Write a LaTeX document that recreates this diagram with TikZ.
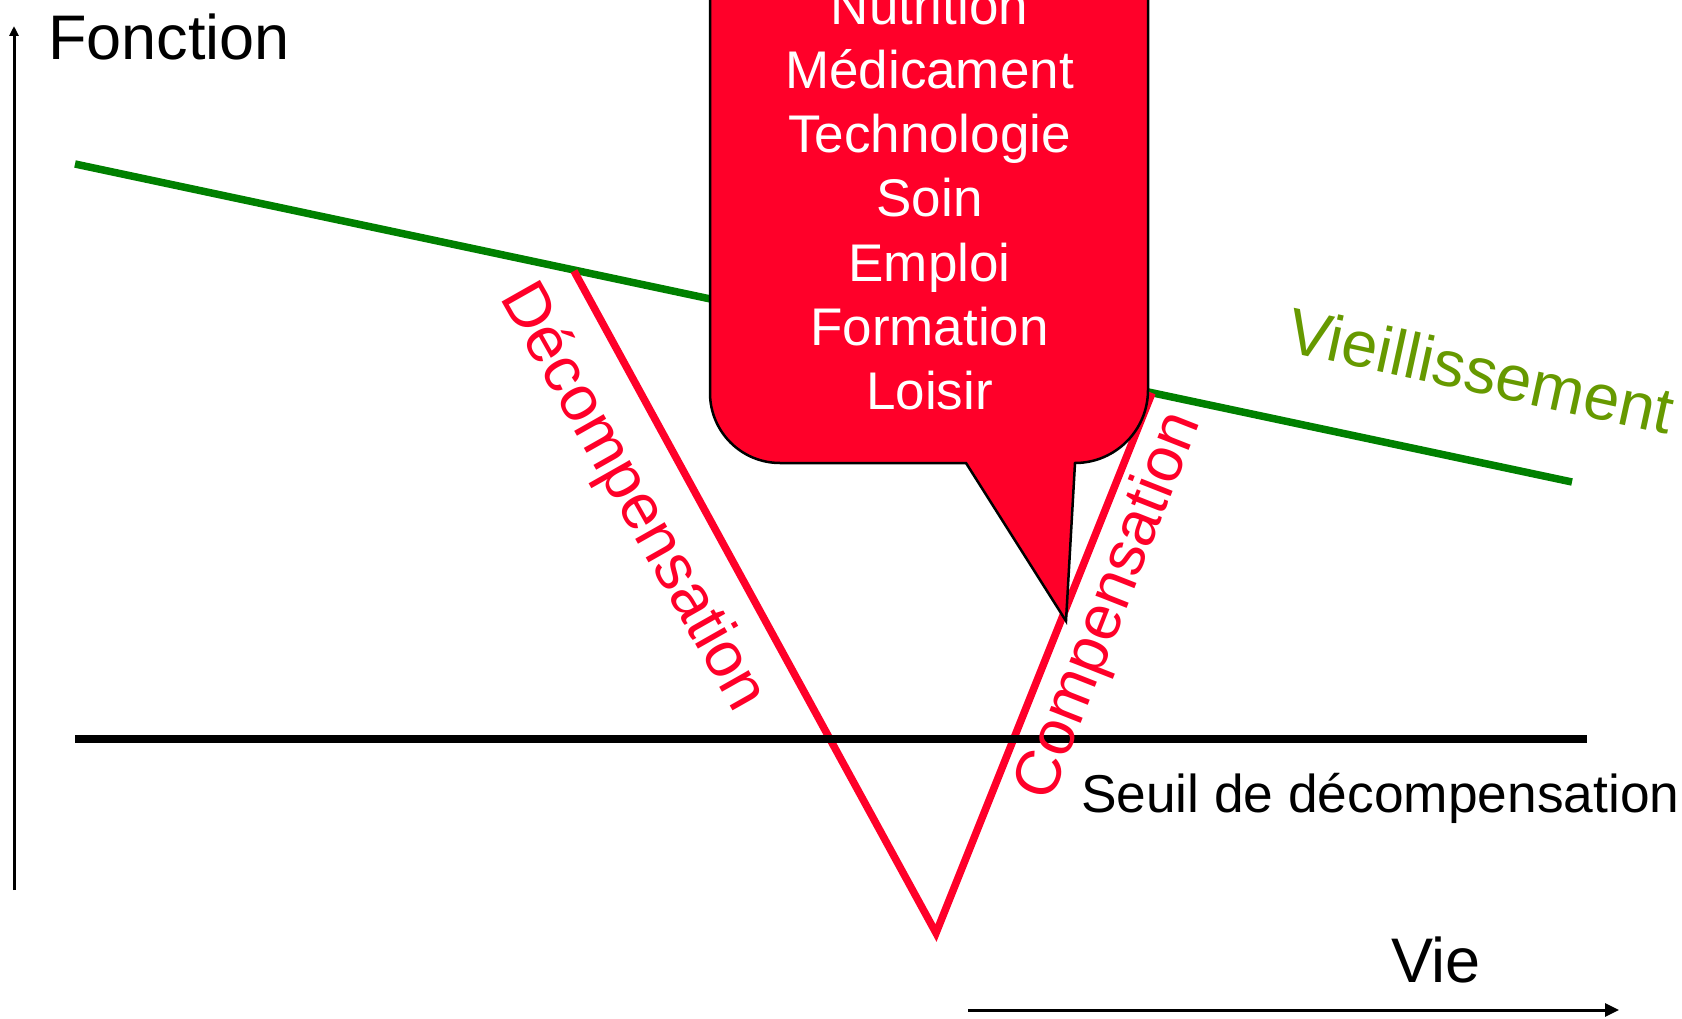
\documentclass[tikz,border=0pt]{standalone}
\usepackage{fontspec}
\setmainfont{Liberation Sans}
\usetikzlibrary{arrows.meta}
\definecolor{cred}{RGB}{255,0,41}
\definecolor{cgreen}{RGB}{0,128,0}
\definecolor{vgreen}{RGB}{102,153,0}
\newcommand\setfs[1]{\fontsize{#1}{#1}\selectfont}
\begin{document}
\begin{tikzpicture}[x=1pt,y=-1pt,
  lbl/.style={inner sep=0pt,outer sep=0pt},
  redline/.style={cred,line width=7.5pt,line join=miter},
  axis/.style={black,line width=3pt},
  callout/.style={fill=cred,draw=black,line width=2.5pt,line join=miter}]
\useasboundingbox (0,0) rectangle (1682,1019);
\clip (0,0) rectangle (1682,1019);
% coordinates
\coordinate (gA) at (75,164);
\coordinate (gB) at (1572,482);
\coordinate (sA) at (75,739);
\coordinate (sB) at (1587,739);
\coordinate (vA) at (574,271);
\coordinate (vB) at (936,933);
\coordinate (vC) at (1152,393);
\coordinate (yA) at (14,890);
\coordinate (yB) at (14,26);
\coordinate (xA) at (968,1010);
\coordinate (xB) at (1619,1010);
% lines
\draw[cgreen,line width=7.5pt] (gA) -- (gB);
\draw[redline] (vA) -- (vB) -- (vC);
\draw[black,line width=8pt] (sA) -- (sB);
\draw[axis,-{Triangle[length=10pt,width=9pt]}] (yA) -- (yB);
\draw[axis,-{Triangle[length=14pt,width=13pt]}] (xA) -- (xB);
% callout
\draw[callout] (710,-50) -- (710,393) .. controls (710,431.7) and (741.3,463) .. (780,463)
  -- (966,463) -- (1066,621) -- (1075,463)
  .. controls (1115.3,463) and (1148,430.3) .. (1148,390) -- (1148,-50) -- cycle;
\foreach \t/\yy [count=\i] in {Nutrition/25,Médicament/89,Technologie/153,Soin/217,Emploi/281,Formation/345,Loisir/409}
  \node[lbl,white,anchor=base] (c\i) at (929.5,\yy) {\setfs{53}\t};
% labels
\node[lbl,anchor=base west] (fonction) at (48,60) {\setfs{63}Fonction};
\node[lbl,anchor=base west] (vie) at (1391,982) {\setfs{63}Vie};
\node[lbl,anchor=base west] (seuil) at (1081,812) {\setfs{53.3}Seuil de décompensation};
\node[lbl,anchor=base west,vgreen,rotate=-12.3] (vieil) at (1284,351) {\setfs{64.5}Vieillissement};
\node[lbl,anchor=base west,cred,rotate=-60.5] (decomp) at (499,297) {\setfs{64}Décompensation};
\node[lbl,anchor=base west,cred,rotate=68.5] (comp) at (1050,803) {\setfs{63.5}Compensation};
\end{tikzpicture}
\end{document}
